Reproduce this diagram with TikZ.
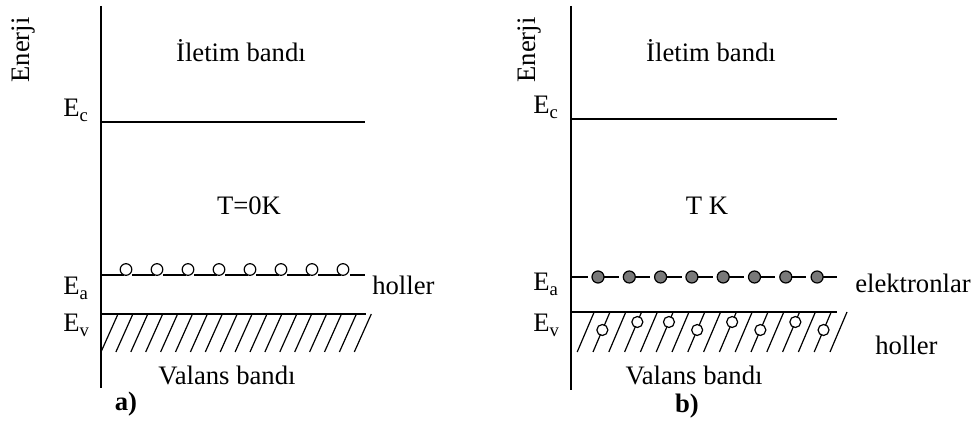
\documentclass[tikz,border=0pt]{standalone}
\usepackage{fontspec}
\setmainfont{Liberation Serif}

\begin{document}
\begin{tikzpicture}[x=0.75pt,y=-0.75pt,
  lbl/.style={font=\fontsize{20}{24}\selectfont,inner sep=0pt},
  band/.style={line width=1.2pt},
  hatchline/.style={line width=0.9pt},
  ealine/.style={line width=1pt,dash pattern=on 17pt off 6.3pt,dash phase=0pt},
  hole/.style={draw,fill=white,line width=0.9pt},
  elec/.style={draw,fill=gray!95!black,line width=0.9pt}]
  \useasboundingbox (0,0) rectangle (975,423);

  % a) T=0K
  \draw[band] (101,6) -- (101,388);
  \draw[band] (101,122) -- (365,122);
  \draw[band] (101,314) -- (366,314);
  \draw[ealine] (101,275) -- (365,275);
  \foreach \i in {0,...,7}
    \draw[hole] (126+31*\i,269.5) circle (5.8);
  \foreach \i in {0,...,17}
    \draw[hatchline] (118+14.9*\i,314) -- ++(-17,38);
  \node[lbl,rotate=90] (enerjiA) at (24,50) {Enerji};
  \node[lbl,anchor=base west] (ecA) at (63,117) {E\textsubscript{c}};
  \node[lbl,anchor=base west] (eaA) at (63,295) {E\textsubscript{a}};
  \node[lbl,anchor=base west] (evA) at (63,332) {E\textsubscript{v}};
  \node[lbl,anchor=base] (iletimA) at (241,62) {İletim bandı};
  \node[lbl,anchor=base] (tempA) at (249,215) {T=0K};
  \node[lbl,anchor=base west] (hollerA) at (372,295) {holler};
  \node[lbl,anchor=base] (valansA) at (227,385) {Valans bandı};
  \node[lbl,anchor=base,font=\fontsize{20}{24}\selectfont\bfseries] (capA) at (126,411) {a)};

  % b) T K
  \draw[band] (571,6) -- (571,390);
  \draw[band] (571,119) -- (837,119);
  \draw[band] (571,312) -- (837,312);
  \draw[ealine,dash phase=4pt] (571,277) -- (837,277);
  \foreach \i in {0,...,7}
    \draw[elec] (598+31.3*\i,277) circle (6);
  \foreach \k in {-1,...,15}
    \draw[hatchline] (610+15.8*\k,312) -- ++(-17,40);
  \foreach \k/\d in {0/18,2/10,4/10,6/18,8/10,10/18,12/10,14/18}
    \draw[hole] (610+15.8*\k-0.425*\d,312+\d) circle (5.5);
  \node[lbl,rotate=90] (enerjiB) at (530,50) {Enerji};
  \node[lbl,anchor=base west] (ecB) at (533,114) {E\textsubscript{c}};
  \node[lbl,anchor=base west] (eaB) at (533,291) {E\textsubscript{a}};
  \node[lbl,anchor=base west] (evB) at (533,332) {E\textsubscript{v}};
  \node[lbl,anchor=base] (iletimB) at (711,62) {İletim bandı};
  \node[lbl,anchor=base] (tempB) at (707,215) {T K};
  \node[lbl,anchor=base west] (elektronB) at (855,293) {elektronlar};
  \node[lbl,anchor=base west] (hollerB) at (875,355) {holler};
  \node[lbl,anchor=base] (valansB) at (694,385) {Valans bandı};
  \node[lbl,anchor=base,font=\fontsize{20}{24}\selectfont\bfseries] (capB) at (687,413) {b)};
\end{tikzpicture}
\end{document}
